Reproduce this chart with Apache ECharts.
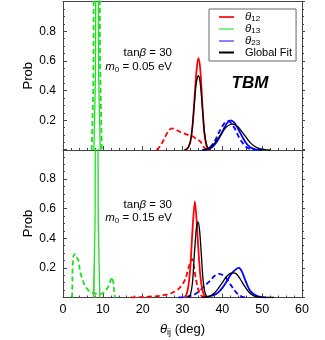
<!DOCTYPE html>
<html>
<head>
<meta charset="utf-8">
<script src="https://cdn.jsdelivr.net/npm/echarts@6/dist/echarts.min.js"></script>
<style>
html,body{margin:0;padding:0;background:#fff;}
#c{width:325px;height:340px;}
</style>
</head>
<body>
<div id="c"></div>
<script>
// ---- axis ticks ----
const xTicks = [0, 10, 20, 30, 40, 50, 60];
const yTicks = [0, 0.2, 0.4, 0.6, 0.8, 1.0];

// ---- top panel (tanβ = 30, m0 = 0.05 eV) ----
const top_theta12_solid = [[30.5,0],[31,0.005],[31.5,0.02],[32,0.06],[32.5,0.16],[33,0.34],[33.5,0.53],[34,0.62],[34.5,0.53],[35,0.3],[35.5,0.11],[36,0.03],[36.5,0.005],[37,0]];
const top_theta12_dash  = [[23.5,0],[24.5,0.03],[25.5,0.08],[26.5,0.13],[27.4,0.146],[28.5,0.135],[29.5,0.12],[30.3,0.112],[31.5,0.1],[32.4,0.094],[33.5,0.075],[34.5,0.056],[35.3,0.02],[36,0.004],[36.5,0]];
const top_theta13_solid = [[7.75,0],[8.15,0.5],[8.55,4],[8.95,0.5],[9.35,0]];
const top_theta13_dash  = [[7.2,0],[7.6,0.4],[8.5,6],[9.3,0.6],[9.75,0]];
const top_theta23_solid = [[35.5,0],[36.5,0.005],[37.5,0.02],[38.5,0.05],[39.5,0.095],[40.5,0.15],[41.3,0.185],[42.1,0.2],[43,0.185],[44,0.14],[45,0.09],[46,0.045],[47,0.018],[48,0.006],[49,0.001],[50,0]];
const top_theta23_dash  = [[35,0],[36,0.005],[37,0.02],[38,0.055],[39,0.11],[40,0.16],[40.8,0.188],[41.4,0.195],[42,0.188],[43,0.15],[44,0.095],[45,0.05],[46,0.02],[47,0.006],[48,0]];
const top_fit_12 = [[30.5,0],[31,0.005],[31.5,0.02],[32,0.06],[32.5,0.16],[33,0.32],[33.5,0.46],[34,0.5],[34.5,0.44],[35,0.28],[35.5,0.12],[36,0.04],[36.5,0.01],[37,0]];
const top_fit_23 = [[35,0],[36,0.005],[37,0.02],[38,0.045],[39,0.08],[40,0.12],[41,0.155],[42,0.172],[42.5,0.175],[43,0.172],[44,0.155],[45,0.12],[46,0.085],[47,0.05],[48,0.027],[49,0.012],[50,0.005],[51,0.001],[52,0]];

// ---- bottom panel (tanβ = 30, m0 = 0.15 eV) ----
const bot_theta12_solid = [[30.5,0],[31,0.02],[31.5,0.08],[32,0.22],[32.5,0.45],[33.1,0.65],[33.6,0.5],[34,0.32],[34.5,0.14],[35,0.05],[35.5,0.01],[36,0]];
const bot_theta12_dash  = [[17,0],[20,0.003],[23,0.008],[25,0.014],[27,0.027],[28,0.04],[29.1,0.06],[30,0.09],[30.8,0.13],[31.6,0.21],[32.4,0.26],[32.9,0.2],[33.4,0.12],[33.9,0.06],[34.5,0.02],[35,0.005],[35.5,0]];
const bot_theta13_solid = [[7.65,0],[8.05,0.5],[8.45,4],[8.85,0.5],[9.25,0]];
const bot_theta13_dash  = [[2.3,0],[2.4,0.2],[2.6,0.28],[3.0,0.295],[3.5,0.305],[3.9,0.25],[4.3,0.17],[4.8,0.13],[5.3,0.09],[6,0.06],[6.5,0.045],[7.2,0.033],[8,0.027],[9,0.023],[9.8,0.026],[10.5,0.037],[11,0.05],[11.5,0.08],[11.9,0.11],[12.3,0.137],[12.6,0.11],[12.85,0.04],[13.0,0]];
const bot_theta23_solid = [[35,0],[36,0.005],[37,0.01],[38,0.018],[39,0.035],[40,0.065],[41,0.105],[42,0.15],[43,0.182],[44.2,0.2],[45,0.17],[45.5,0.135],[46,0.1],[46.5,0.068],[47,0.045],[48,0.02],[49,0.008],[50,0.002],[51,0]];
const bot_theta23_dash  = [[29,0],[31,0.005],[33,0.02],[34.5,0.05],[36,0.09],[37,0.115],[38,0.145],[39.2,0.16],[40.2,0.15],[41,0.13],[42,0.09],[43,0.05],[44,0.02],[45,0.005],[46,0]];
const bot_fit_12 = [[31.5,0],[32,0.02],[32.5,0.1],[33,0.3],[33.5,0.47],[33.9,0.51],[34.3,0.45],[34.7,0.3],[35.1,0.14],[35.5,0.05],[36,0.01],[36.5,0]];
const bot_fit_23 = [[35,0],[36,0.004],[37,0.011],[38,0.03],[39,0.062],[40,0.1],[41,0.14],[42,0.163],[42.8,0.166],[43.5,0.16],[44.5,0.125],[45.5,0.08],[46.5,0.042],[47.5,0.017],[48.5,0.006],[50,0.001],[53,0]];
const bot_fit_13 = [[7.8,0],[7.9,0.23],[8.0,0]];

const legendNames = ['θ12', 'θ13', 'θ23', 'Global Fit'];

const FONT = 'Liberation Sans, Arial, sans-serif';
const RED = '#ff0000', GREEN = '#1ee01e', BLUE = '#0000ff', BLACK = '#000000';

function ser(data, color, dashed, gi, smooth, z, width) {
  return {
    type: 'line', data: data, xAxisIndex: gi === 0 ? 0 : 2, yAxisIndex: gi === 0 ? 0 : 2,
    symbol: 'none', smooth: smooth === undefined ? 0.3 : smooth, silent: true, z: z || 2,
    lineStyle: { color: color, width: width || 1.8, type: dashed ? [5, 3] : 'solid' },
    clip: true, animation: false
  };
}

const chart = echarts.init(document.getElementById('c'), null, { renderer: 'canvas' });

const axisCommon = {
  type: 'value', min: xTicks[0], max: xTicks[xTicks.length - 1], interval: xTicks[1] - xTicks[0]
};
const yCommon = {
  type: 'value', min: yTicks[0], max: yTicks[yTicks.length - 1], interval: yTicks[1] - yTicks[0]
};
const lineCol = '#444';

const option = {
  animation: false,
  textStyle: { fontFamily: FONT },
  grid: [
    { left: 63, right: 23, top: 1.5, height: 148.5 },
    { left: 63, right: 23, top: 149.5, height: 148 }
  ],
  xAxis: [
    Object.assign({}, axisCommon, {
      gridIndex: 0, position: 'bottom',
      axisLine: { show: true, onZero: false, lineStyle: { color: lineCol, width: 1 } },
      axisTick: { show: true, inside: true, length: 4, lineStyle: { color: lineCol } },
      minorTick: { show: true, splitNumber: 5, length: 2, lineStyle: { color: lineCol } },
      axisLabel: { show: false }, splitLine: { show: false }
    }),
    Object.assign({}, axisCommon, {
      gridIndex: 0, position: 'top',
      axisLine: { show: true, onZero: false, lineStyle: { color: lineCol, width: 1 } },
      axisTick: { show: false }, axisLabel: { show: false }, splitLine: { show: false }
    }),
    Object.assign({}, axisCommon, {
      gridIndex: 1, position: 'bottom',
      axisLine: { show: true, onZero: false, lineStyle: { color: lineCol, width: 1 } },
      axisTick: { show: true, inside: true, length: 4, lineStyle: { color: lineCol } },
      minorTick: { show: true, splitNumber: 5, length: 2, lineStyle: { color: lineCol } },
      axisLabel: { show: true, color: '#000', fontSize: 12.5, fontFamily: FONT, margin: 6 },
      splitLine: { show: false },
      name: '{t|θ}{s|ij}{n| (deg)}', nameLocation: 'middle', nameGap: 24, nameMoveOverlap: false,
      nameTextStyle: {
        color: '#000', fontFamily: FONT,
        rich: {
          t: { fontSize: 13, fontStyle: 'italic', color: '#000', lineHeight: 16, fontFamily: FONT },
          s: { fontSize: 9, color: '#000', lineHeight: 9, verticalAlign: 'bottom', fontFamily: FONT },
          n: { fontSize: 13, color: '#000', lineHeight: 16, fontFamily: FONT }
        }
      }
    })
  ],
  yAxis: [0, 1].map(function (gi) {
    return [
      Object.assign({}, yCommon, {
        gridIndex: gi, position: 'left',
        axisLine: { show: true, onZero: false, lineStyle: { color: lineCol, width: 1 } },
        axisTick: { show: true, inside: true, length: 4, lineStyle: { color: lineCol } },
        minorTick: { show: true, splitNumber: 4, length: 2, lineStyle: { color: lineCol } },
        axisLabel: { show: true, showMinLabel: false, showMaxLabel: false, color: '#000', fontSize: 12, fontFamily: FONT, margin: 7 },
        splitLine: { show: false },
        name: 'Prob', nameLocation: 'middle', nameGap: 28, nameMoveOverlap: false,
        nameTextStyle: { color: '#000', fontSize: 13, fontFamily: FONT }
      }),
      Object.assign({}, yCommon, {
        gridIndex: gi, position: 'right',
        axisLine: { show: true, onZero: false, lineStyle: { color: lineCol, width: 1 } },
        axisTick: { show: true, inside: false, length: 3, lineStyle: { color: lineCol } },
        minorTick: { show: true, splitNumber: 4, length: 2, lineStyle: { color: lineCol } },
        axisLabel: { show: false }, splitLine: { show: false }
      })
    ];
  }).reduce(function (a, b) { return a.concat(b); }, []),
  legend: {
    left: 209, top: 9, orient: 'vertical', selectedMode: false,
    backgroundColor: '#fff', borderColor: '#666', borderWidth: 1, borderRadius: 0,
    padding: [2, 4, 3, 9], itemGap: 0, itemWidth: 15, itemHeight: 11.5,
    itemStyle: { opacity: 0 },
    data: legendNames,
    formatter: function (n) {
      if (n === 'Global Fit') return '{n|Global Fit}';
      return '{t|θ}{s|' + n.slice(1) + '}';
    },
    textStyle: {
      color: '#000', fontFamily: FONT, padding: [0, 0, 0, 6],
      rich: {
        t: { fontSize: 11.5, fontStyle: 'italic', color: '#000', lineHeight: 11, fontFamily: FONT },
        s: { fontSize: 8, color: '#000', lineHeight: 7, verticalAlign: 'bottom', fontFamily: FONT },
        n: { fontSize: 11, color: '#000', lineHeight: 11, fontFamily: FONT }
      }
    }
  },
  graphic: [
    {
      type: 'text', x: 172, y: 53, silent: true,
      style: {
        text: '{n|tan}{i|β}{n| = 30}', align: 'right', verticalAlign: 'middle',
        rich: { n: { fontSize: 11.5, fill: '#000', fontFamily: FONT }, i: { fontSize: 11.5, fontStyle: 'italic', fill: '#000', fontFamily: FONT } }
      }
    },
    {
      type: 'text', x: 172, y: 67, silent: true,
      style: {
        text: '{i|m}{s|0}{n| = 0.05 eV}', align: 'right', verticalAlign: 'middle',
        rich: { n: { fontSize: 11.5, fill: '#000', fontFamily: FONT, lineHeight: 14 }, i: { fontSize: 11.5, fontStyle: 'italic', fill: '#000', fontFamily: FONT, lineHeight: 14 }, s: { fontSize: 8, fill: '#000', fontFamily: FONT, lineHeight: 8, verticalAlign: 'bottom' } }
      }
    },
    {
      type: 'text', x: 172, y: 205, silent: true,
      style: {
        text: '{n|tan}{i|β}{n| = 30}', align: 'right', verticalAlign: 'middle',
        rich: { n: { fontSize: 11.5, fill: '#000', fontFamily: FONT }, i: { fontSize: 11.5, fontStyle: 'italic', fill: '#000', fontFamily: FONT } }
      }
    },
    {
      type: 'text', x: 172, y: 218, silent: true,
      style: {
        text: '{i|m}{s|0}{n| = 0.15 eV}', align: 'right', verticalAlign: 'middle',
        rich: { n: { fontSize: 11.5, fill: '#000', fontFamily: FONT, lineHeight: 14 }, i: { fontSize: 11.5, fontStyle: 'italic', fill: '#000', fontFamily: FONT, lineHeight: 14 }, s: { fontSize: 8, fill: '#000', fontFamily: FONT, lineHeight: 8, verticalAlign: 'bottom' } }
      }
    },
    {
      type: 'text', x: 250, y: 83, silent: true,
      style: { text: 'TBM', align: 'center', verticalAlign: 'middle', fontSize: 17, fontWeight: 'bold', fontStyle: 'italic', fill: '#000', fontFamily: FONT }
    }
  ],
  series: [
    // legend-only entries
    { type: 'line', name: 'θ12', data: [], symbol: 'none', lineStyle: { color: '#ff2a2a', width: 1.8 }, itemStyle: { color: '#ff2a2a' } },
    { type: 'line', name: 'θ13', data: [], symbol: 'none', lineStyle: { color: '#88ee88', width: 1.8 }, itemStyle: { color: '#88ee88' } },
    { type: 'line', name: 'θ23', data: [], symbol: 'none', lineStyle: { color: '#8585ff', width: 1.8 }, itemStyle: { color: '#8585ff' } },
    { type: 'line', name: 'Global Fit', data: [], symbol: 'none', lineStyle: { color: '#000', width: 1.2 }, itemStyle: { color: '#000' } },
    // top panel
    ser(top_theta12_dash, RED, true, 0),
    ser(top_theta23_dash, BLUE, true, 0),
    ser(top_theta23_solid, BLUE, false, 0),
    ser(top_fit_23, BLACK, false, 0, 0.3, 3, 1.3),
    ser(top_theta12_solid, RED, false, 0),
    ser(top_fit_12, BLACK, false, 0, 0.3, 3, 1.3),
    ser(top_theta13_dash, GREEN, true, 0, false),
    ser(top_theta13_solid, GREEN, false, 0, false, 3, 1.3),
    // bottom panel
    ser(bot_fit_13, '#bbbbbb', false, 1, false, 1, 1),
    ser(bot_theta12_dash, RED, true, 1),
    ser(bot_theta23_dash, BLUE, true, 1),
    ser(bot_theta23_solid, BLUE, false, 1),
    ser(bot_fit_23, BLACK, false, 1, 0.3, 3, 1.3),
    ser(bot_theta12_solid, RED, false, 1),
    ser(bot_fit_12, BLACK, false, 1, 0.3, 3, 1.3),
    ser(bot_theta13_dash, GREEN, true, 1, false),
    ser(bot_theta13_solid, GREEN, false, 1, false, 3, 1.3)
  ]
};
chart.setOption(option);
</script>
</body>
</html>
